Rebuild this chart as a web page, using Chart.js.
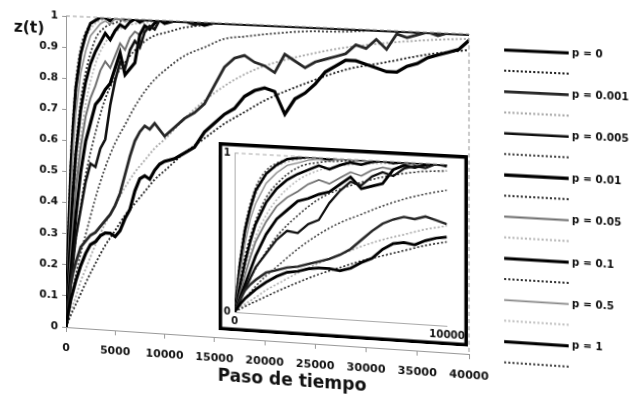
<!DOCTYPE html>
<html>
<head>
<meta charset="utf-8">
<script src="https://cdn.jsdelivr.net/npm/chart.js@4.4.0/dist/chart.umd.min.js"></script>
<style>
html,body{margin:0;padding:0;background:#fff;overflow:hidden}
#hoja{position:absolute;left:0;top:0;width:629px;height:398px;transform-origin:0 0}
#principal{position:absolute;left:0;top:0}
#recuadro{position:absolute;left:221px;top:134px}
</style>
</head>
<body>
<div id="hoja">
<canvas id="principal" width="629" height="398"></canvas>
<canvas id="recuadro" width="246" height="186"></canvas>
</div>
<script>
// pasos de tiempo de las simulaciones
const pasos = [0,250,500,750,1000,1500,2000,2500,3000,3500,4000,4500,5000,5500,6000,6500,7000,7500,8000,8500,9000,9500,10000,
  11000,12000,13000,14000,15000,16000,17000,18000,19000,20000,21000,22000,23000,24000,25000,26000,27000,28000,29000,30000,
  31000,32000,33000,34000,35000,36000,37000,38000,39000,40000]

// pasos de las curvas teoricas
const pasosTeo = [0,250,500,1000,1500,2000,3000,4000,5000,6000,7000,8000,9000,10000,12000,14000,16000,18000,20000,24000,28000,32000,36000,40000]

const etiquetasP = ['p = 0','p = 0.001','p = 0.005','p = 0.01','p = 0.05','p = 0.1','p = 0.5','p = 1']

// z(t) simulado
const zSim_p0 = [0,0.05,0.09,0.12,0.15,0.20,0.24,0.27,0.28,0.30,0.31,0.31,0.30,0.32,0.36,0.39,0.45,0.49,0.50,0.49,0.52,0.54,0.55,
  0.56,0.58,0.60,0.65,0.68,0.71,0.73,0.77,0.79,0.80,0.79,0.72,0.77,0.79,0.82,0.86,0.88,0.90,0.90,0.89,
  0.88,0.87,0.87,0.89,0.90,0.92,0.93,0.94,0.95,0.98]
const zSim_p0001 = [0,0.08,0.14,0.18,0.21,0.26,0.28,0.30,0.31,0.33,0.35,0.37,0.40,0.44,0.50,0.56,0.61,0.64,0.66,0.65,0.67,0.65,0.63,
  0.66,0.69,0.71,0.74,0.80,0.86,0.89,0.90,0.88,0.87,0.85,0.91,0.89,0.87,0.89,0.90,0.91,0.92,0.95,0.94,
  0.97,0.94,0.99,0.98,0.99,1,0.99,1,1,1]
const zSim_p0005 = [0,0.07,0.15,0.22,0.29,0.38,0.47,0.53,0.52,0.58,0.61,0.72,0.80,0.86,0.84,0.90,0.93,0.91,0.96,0.98,0.97,1,1,
  1,1,0.99,1,1,1,1,1,1,1,1,1,1,1,1,1,1,1,1,1,
  1,1,1,1,1,1,1,1,1,1]
const zSim_p001 = [0,0.09,0.18,0.27,0.36,0.50,0.60,0.66,0.72,0.74,0.77,0.79,0.84,0.89,0.82,0.84,0.86,0.95,0.98,0.97,0.99,1,0.99,
  1,1,1,0.99,1,1,1,1,1,1,1,1,1,1,1,1,1,1,1,1,
  1,1,1,1,1,1,1,1,1,1]
const zSim_p005 = [0,0.12,0.24,0.35,0.45,0.58,0.68,0.74,0.78,0.83,0.86,0.84,0.88,0.92,0.90,0.94,0.96,0.95,0.98,0.97,0.99,1,0.99,
  1,1,1,1,1,1,1,1,1,1,1,1,1,1,1,1,1,1,1,1,
  1,1,1,1,1,1,1,1,1,1]
const zSim_p01 = [0,0.16,0.32,0.45,0.56,0.70,0.79,0.85,0.89,0.92,0.95,0.93,0.96,0.98,0.97,0.99,1,0.99,1,1,1,1,1,
  1,1,1,1,1,1,1,1,1,1,1,1,1,1,1,1,1,1,1,1,
  1,1,1,1,1,1,1,1,1,1]
const zSim_p05 = [0,0.24,0.44,0.59,0.69,0.82,0.89,0.94,0.96,0.98,0.99,0.98,1,1,0.99,1,1,1,1,1,1,1,1,
  1,1,1,1,1,1,1,1,1,1,1,1,1,1,1,1,1,1,1,1,
  1,1,1,1,1,1,1,1,1,1]
const zSim_p1 = [0,0.30,0.52,0.66,0.77,0.88,0.94,0.98,0.99,1,1,0.99,1,1,1,1,1,1,1,1,1,1,1,
  1,1,1,1,1,1,1,1,1,1,1,1,1,1,1,1,1,1,1,1,
  1,1,1,1,1,1,1,1,1,1]

// z(t) teorico
const zTeo_p0 = [0,0.02,0.04,0.075,0.11,0.145,0.21,0.27,0.32,0.37,0.41,0.45,0.49,0.52,0.58,0.63,0.68,0.72,0.76,0.82,0.87,0.90,0.93,0.95]
const zTeo_p0001 = [0,0.03,0.055,0.10,0.15,0.19,0.27,0.34,0.40,0.46,0.51,0.55,0.59,0.62,0.69,0.75,0.80,0.84,0.87,0.91,0.94,0.96,0.975,0.985]
const zTeo_p0005 = [0,0.045,0.09,0.17,0.24,0.30,0.42,0.52,0.60,0.66,0.72,0.77,0.81,0.84,0.89,0.92,0.95,0.96,0.97,0.985,0.99,1,1,1]
const zTeo_p001 = [0,0.08,0.15,0.28,0.39,0.49,0.63,0.74,0.81,0.86,0.90,0.93,0.95,0.96,0.98,0.99,1,1,1,1,1,1,1,1]
const zTeo_p005 = [0,0.15,0.28,0.48,0.62,0.72,0.85,0.92,0.955,0.975,0.985,0.99,0.995,1,1,1,1,1,1,1,1,1,1,1]
const zTeo_p01 = [0,0.20,0.36,0.58,0.73,0.82,0.93,0.97,0.985,0.995,1,1,1,1,1,1,1,1,1,1,1,1,1,1]
const zTeo_p05 = [0,0.30,0.50,0.74,0.87,0.93,0.98,0.995,1,1,1,1,1,1,1,1,1,1,1,1,1,1,1,1]
const zTeo_p1 = [0,0.33,0.55,0.79,0.90,0.95,0.99,1,1,1,1,1,1,1,1,1,1,1,1,1,1,1,1,1]

const simulaciones = [zSim_p0,zSim_p0001,zSim_p0005,zSim_p001,zSim_p005,zSim_p01,zSim_p05,zSim_p1]
const teoricas = [zTeo_p0,zTeo_p0001,zTeo_p0005,zTeo_p001,zTeo_p005,zTeo_p01,zTeo_p05,zTeo_p1]

// estilos
const colorSim = ['#000','#262626','#111','#000','#707070','#000','#8c8c8c','#000']
const anchoSim = [3.2,2.8,2.6,3.2,2,3,1.6,3]
const colorTeo = ['#222','#a8a8a8','#444','#333','#b8b8b8','#333','#c2c2c2','#444']

Chart.defaults.font.family = '"DejaVu Sans", sans-serif'
Chart.defaults.font.weight = 'bold'
Chart.defaults.color = '#111'

function armarSeries(escala){
  let series=[]
  etiquetasP.forEach((etq,i)=>{
    series.push({
      label: etq,
      data: pasos.map((x,j)=>({x:x, y:simulaciones[i][j]})),
      borderColor: colorSim[i],
      borderWidth: anchoSim[i]*escala,
      pointRadius: 0,
      order: 0
    })
    series.push({
      label: '',
      data: pasosTeo.map((x,j)=>({x:x, y:teoricas[i][j]})),
      borderColor: colorTeo[i],
      borderWidth: 1.8*escala,
      borderDash: [2,2],
      cubicInterpolationMode: 'monotone',
      pointRadius: 0,
      order: 1
    })
  })
  return series
}

// marco punteado del grafico principal
const marco = {
  id: 'marco',
  afterDraw(chart){
    const {ctx, chartArea:a} = chart
    ctx.save()
    ctx.strokeStyle='#999'
    ctx.lineWidth=1
    ctx.setLineDash([4,3])
    ctx.beginPath()
    ctx.moveTo(a.left,a.top); ctx.lineTo(a.right,a.top); ctx.lineTo(a.right,a.bottom)
    ctx.stroke()
    ctx.restore()
  }
}

const textos = {
  id: 'textos',
  afterDraw(chart){
    const ctx = chart.ctx
    ctx.save()
    ctx.fillStyle='#111'
    ctx.textAlign='center'
    ctx.textBaseline='middle'
    ctx.font='bold 16px "DejaVu Sans"'
    ctx.fillText('z(t)',28,30)
    ctx.font='bold 17px "DejaVu Sans"'
    ctx.fillText('Paso de tiempo',294,366)
    ctx.restore()
  }
}

const leyenda = {
  id: 'leyenda',
  afterDraw(chart){
    const ctx = chart.ctx
    ctx.save()
    ctx.font='bold 10px "DejaVu Sans"'
    ctx.textBaseline='middle'
    ctx.fillStyle='#111'
    etiquetasP.forEach((etq,i)=>{
      const y1 = 30 + i*40.4
      const y2 = y1 + 20
      ctx.setLineDash([])
      ctx.lineWidth = anchoSim[i]
      ctx.strokeStyle = colorSim[i]
      ctx.beginPath(); ctx.moveTo(502,y1); ctx.lineTo(564,y1); ctx.stroke()
      ctx.fillText(etq,567,y1)
      ctx.setLineDash([2,2])
      ctx.lineWidth = 2
      ctx.strokeStyle = colorTeo[i]
      ctx.beginPath(); ctx.moveTo(502,y2); ctx.lineTo(564,y2); ctx.stroke()
    })
    ctx.restore()
  }
}

new Chart(document.getElementById('principal'), {
  type: 'line',
  data: { datasets: armarSeries(1) },
  options: {
    responsive: false,
    animation: false,
    layout: { padding: { top: 16, right: 161, bottom: 20, left: 0 } },
    plugins: { legend: { display: false }, tooltip: { enabled: false } },
    scales: {
      x: {
        type: 'linear', min: 0, max: 40000,
        ticks: { stepSize: 5000, padding: 10, maxRotation: 0, autoSkip: false, font: { size: 11, weight: 'bold' }, callback: v => String(v) },
        grid: { drawOnChartArea: false, tickLength: 5, color: '#999' },
        border: { dash: [4,3], color: '#999' },
        afterFit: s => { s.height = 51 }
      },
      y: {
        min: 0, max: 1,
        ticks: { stepSize: 0.1, padding: 4, font: { size: 11, weight: 'bold' }, callback: v => String(Math.round(v*10)/10) },
        grid: { drawOnChartArea: false, tickLength: 4, color: '#999' },
        border: { dash: [4,3], color: '#999' },
        afterFit: s => { s.width = 66 }
      }
    }
  },
  plugins: [marco, textos, leyenda]
})

// recuadro ampliado 0..10000
const fondoRecuadro = {
  id: 'fondoRecuadro',
  beforeDraw(chart){
    const ctx = chart.ctx
    ctx.save(); ctx.fillStyle='#fff'; ctx.fillRect(0,0,chart.width,chart.height); ctx.restore()
  },
  afterDraw(chart){
    const {ctx, chartArea:a} = chart
    ctx.save()
    ctx.strokeStyle='#aaa'; ctx.lineWidth=1; ctx.setLineDash([4,3])
    ctx.beginPath(); ctx.moveTo(a.left,a.top); ctx.lineTo(a.right,a.top); ctx.stroke()
    ctx.setLineDash([])
    ctx.strokeStyle='#000'; ctx.lineWidth=3.5
    ctx.strokeRect(1.75,1.75,chart.width-3.5,chart.height-3.5)
    ctx.restore()
  }
}

new Chart(document.getElementById('recuadro'), {
  type: 'line',
  data: { datasets: armarSeries(0.85) },
  options: {
    responsive: false,
    animation: false,
    layout: { padding: { top: 9, right: 17, bottom: 0, left: 0 } },
    plugins: { legend: { display: false }, tooltip: { enabled: false } },
    scales: {
      x: {
        type: 'linear', min: 0, max: 10000,
        afterBuildTicks: s => { s.ticks = [{value:0},{value:10000}] },
        ticks: { padding: 3, maxRotation: 0, font: { size: 10, weight: 'bold' }, callback: v => String(v) },
        grid: { drawOnChartArea: false, drawTicks: false },
        border: { dash: [4,3], color: '#aaa' },
        afterFit: s => { s.height = 19 }
      },
      y: {
        min: 0, max: 1,
        afterBuildTicks: s => { s.ticks = [{value:0},{value:1}] },
        ticks: { padding: 4, font: { size: 10, weight: 'bold' }, callback: v => String(v) },
        grid: { drawOnChartArea: false, drawTicks: false },
        border: { dash: [4,3], color: '#aaa' },
        afterFit: s => { s.width = 16 }
      }
    }
  },
  plugins: [fondoRecuadro]
})

// inclinacion de la hoja fotografiada
function resolver(A,b){
  const n=b.length
  for(let i=0;i<n;i++){
    let m=i
    for(let k=i+1;k<n;k++) if(Math.abs(A[k][i])>Math.abs(A[m][i])) m=k
    ;[A[i],A[m]]=[A[m],A[i]]; [b[i],b[m]]=[b[m],b[i]]
    for(let k=i+1;k<n;k++){
      const f=A[k][i]/A[i][i]
      for(let j=i;j<n;j++) A[k][j]-=f*A[i][j]
      b[k]-=f*b[i]
    }
  }
  const x=new Array(n).fill(0)
  for(let i=n-1;i>=0;i--){
    let s=b[i]
    for(let j=i+1;j<n;j++) s-=A[i][j]*x[j]
    x[i]=s/A[i][i]
  }
  return x
}
function homografia(origen,destino){
  let A=[],b=[]
  for(let i=0;i<4;i++){
    const [x,y]=origen[i], [u,v]=destino[i]
    A.push([x,y,1,0,0,0,-x*u,-y*u]); b.push(u)
    A.push([0,0,0,x,y,1,-x*v,-y*v]); b.push(v)
  }
  const h=resolver(A,b)
  return `matrix3d(${h[0]},${h[3]},0,${h[6]},${h[1]},${h[4]},0,${h[7]},0,0,1,0,${h[2]},${h[5]},0,1)`
}
document.getElementById('hoja').style.transform = homografia(
  [[66,16],[468,16],[66,327],[468,327]],
  [[66,16],[469,34],[66,327],[469,354]]
)
</script>
</body>
</html>
